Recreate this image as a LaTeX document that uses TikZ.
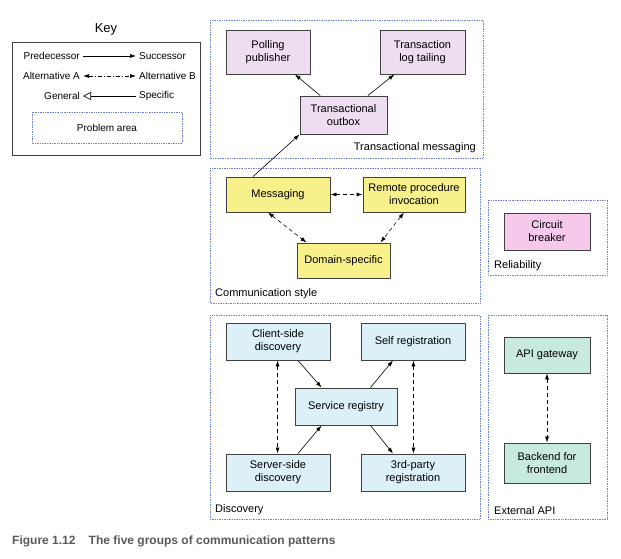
\documentclass[tikz,border=0pt]{standalone}
\usepackage{fontspec}
\setmainfont{Liberation Sans}
\usetikzlibrary{arrows.meta,positioning,calc}
\definecolor{lil}{HTML}{EEDDF0}
\definecolor{pnk}{HTML}{F5C8EC}
\definecolor{yel}{HTML}{F8F08A}
\definecolor{lbl}{HTML}{DCF0F8}
\definecolor{grn}{HTML}{C8EADC}
\definecolor{dotb}{HTML}{6A80D0}
\begin{document}
\begin{tikzpicture}[x=1pt,y=-1pt,
 area/.style={draw=dotb,densely dotted,line width=0.7pt},
 box/.style={draw=black!75,line width=0.9pt,align=center,font=\fontsize{11}{13}\selectfont,inner sep=0pt},
 lab/.style={font=\fontsize{11}{13}\selectfont,inner sep=0pt},
 klab/.style={font=\fontsize{10}{12}\selectfont,inner sep=0pt},
 arr/.style={-{Latex[length=6pt,width=4pt]},line width=0.6pt},
 alt/.style={{Latex[length=6pt,width=4pt]}-{Latex[length=6pt,width=4pt]},line width=0.6pt,dash pattern=on 4pt off 3pt}]
\useasboundingbox (0,0) rectangle (621,558);
% key
\node[font=\fontsize{13}{15}\selectfont] (keyt) at (106,29) {Key};
\draw[black!75,line width=0.9pt] (12,42) rectangle (200,155);
\node[klab,anchor=east] (pre) at (80,56) {Predecessor};
\node[klab,anchor=west] (suc) at (139,56) {Successor};
\draw[arr] ($(pre.east)+(3,0)$) -- ($(suc.west)+(-3,0)$);
\node[klab,anchor=east] (aa) at (80,76) {Alternative A};
\node[klab,anchor=west] (ab) at (139,76) {Alternative B};
\node[klab,anchor=east] (gen) at (80,96) {General};
\node[klab,anchor=west] (spe) at (139,96) {Specific};
\draw[alt,dash pattern=on 4pt off 2pt on 1pt off 2pt] ($(aa.east)+(3,0)$) -- ($(ab.west)+(-3,0)$);
\draw[-{Triangle[open,length=8pt,width=8pt]},line width=0.6pt] ($(spe.west)+(-3,0)$) -- ($(gen.east)+(3,0)$);
\draw[area] (32,112) rectangle (182,143);
\node[klab] (pa) at (107,127.5) {Problem area};
% transactional messaging
\draw[area] (210,20) rectangle (483,158);
\node[lab,anchor=south east] (tml) at (476,153) {Transactional messaging};
\node[box,fill=lil,minimum width=84pt,minimum height=44pt] (pp) at (268,52) {Polling\\publisher};
\node[box,fill=lil,minimum width=85pt,minimum height=44pt] (tlt) at (422.5,52) {Transaction\\log tailing};
\node[box,fill=lil,minimum width=87pt,minimum height=38pt] (to) at (343.5,115) {Transactional\\outbox};
\draw[arr] (to) -- (pp);
\draw[arr] (to) -- (tlt);
% communication style
\draw[area] (210,168) rectangle (480,303);
\node[lab,anchor=south west] (csl) at (215,299) {Communication style};
\node[box,fill=yel,minimum width=104pt,minimum height=35pt] (msg) at (278,194.5) {Messaging};
\node[box,fill=yel,minimum width=102pt,minimum height=35pt] (rpi) at (414,194.5) {Remote procedure\\invocation};
\node[box,fill=yel,minimum width=93pt,minimum height=35pt] (dom) at (343.5,260.5) {Domain-specific};
\draw[arr] ($(msg.north)+(-25,0)$) -- (to.south west);
\draw[alt] (msg) -- (rpi);
\draw[alt] ($(msg.south)+(-10,0)$) -- ($(dom.north west)+(10,0)$);
\draw[alt] ($(rpi.south)+(-10,0)$) -- ($(dom.north east)+(-10,0)$);
% reliability
\draw[area] (488,200) rectangle (607,275);
\node[lab,anchor=south west] (rel) at (494,271) {Reliability};
\node[box,fill=pnk,minimum width=86pt,minimum height=37pt] (cb) at (547,231.5) {Circuit\\breaker};
% discovery
\draw[area] (210,315) rectangle (480,519);
\node[lab,anchor=south west] (dl) at (215,515) {Discovery};
\node[box,fill=lbl,minimum width=104pt,minimum height=37pt] (csd) at (278,341.5) {Client-side\\discovery};
\node[box,fill=lbl,minimum width=104pt,minimum height=37pt] (sr) at (413,341.5) {Self registration};
\node[box,fill=lbl,minimum width=102pt,minimum height=37pt] (reg) at (346,406.5) {Service registry};
\node[box,fill=lbl,minimum width=104pt,minimum height=37pt] (ssd) at (278,472.5) {Server-side\\discovery};
\node[box,fill=lbl,minimum width=104pt,minimum height=37pt] (tpr) at (413,472.5) {3rd-party\\registration};
\draw[arr] ($(csd.south)+(20,0)$) -- ($(reg.north west)+(27,0)$);
\draw[arr] ($(ssd.north)+(20,0)$) -- ($(reg.south west)+(27,0)$);
\draw[arr] ($(reg.north east)+(-27,0)$) -- ($(sr.south)+(-20,0)$);
\draw[arr] ($(reg.south east)+(-27,0)$) -- ($(tpr.north)+(-20,0)$);
\draw[alt] ($(csd.south west)+(52,0)$) -- ($(ssd.north west)+(52,0)$);
\draw[alt] ($(sr.south east)+(-52,0)$) -- ($(tpr.north east)+(-52,0)$);
% external api
\draw[area] (488,315) rectangle (607,519);
\node[lab,anchor=south west] (eal) at (494,515) {External API};
\node[box,fill=grn,minimum width=86pt,minimum height=36pt] (gw) at (547,355) {API gateway};
\node[box,fill=grn,minimum width=86pt,minimum height=40pt] (bff) at (547,463) {Backend for\\frontend};
\draw[alt] (gw) -- (bff);
% caption
\node[anchor=west,inner sep=0pt,font=\bfseries\fontsize{12}{14}\selectfont,text=black!65] (cap) at (12,541) {Figure 1.12\hspace{1.1em}The five groups of communication patterns};
\end{tikzpicture}
\end{document}
